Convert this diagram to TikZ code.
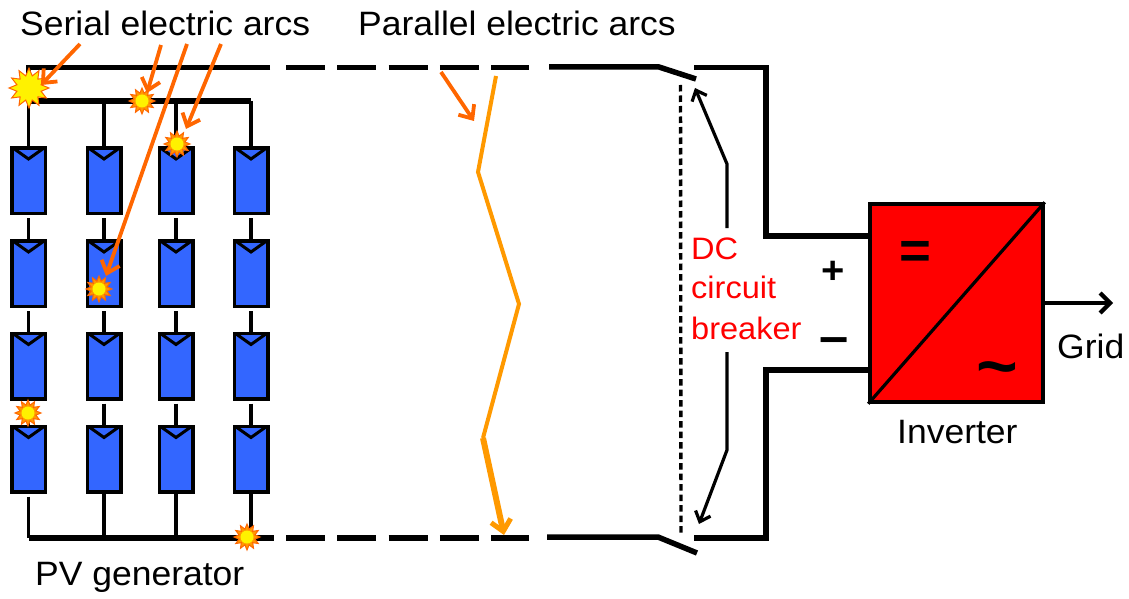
\documentclass[tikz,border=0pt]{standalone}
\usepackage{fontspec}
\setmainfont[FakeStretch=1.05]{Liberation Sans}
\usetikzlibrary{arrows.meta,shapes.geometric}
\definecolor{modblue}{HTML}{3366FF}
\definecolor{arcor}{HTML}{FF6600}
\definecolor{zigor}{HTML}{FF9900}
\tikzset{
  x=1pt,y=-1pt,
  module/.style={draw=black,line width=3.5pt,fill=modblue,minimum width=33.5pt,minimum height=65.5pt,inner sep=0pt},
  notch/.style={black,line width=3pt,line join=miter},
  thinwire/.style={black,line width=3.5pt},
  bus/.style={black,line width=5.5pt},
  dashbus/.style={black,line width=5.5pt,dash pattern=on 39pt off 12.3pt},
  poleline/.style={black,line width=5.5pt},
  arcarrow/.style={arcor,line width=3.8pt,-{Straight Barb[length=11pt,width=19pt,line width=3.8pt]}},
  blackarrow/.style={black,line width=3.2pt,-{Straight Barb[length=9pt,width=16pt,line width=3.2pt]}},
  lbl/.style={anchor=base west,inner sep=0pt,font=\fontsize{33.8}{36}\selectfont,text=black},
  redlbl/.style={anchor=base west,inner sep=0pt,font=\fontsize{31}{36}\selectfont,text=red},
  burst/.style={star,star points=12,star point ratio=1.6,draw=arcor,line width=1pt,fill=zigor,inner sep=0pt,minimum size=#1},
  core/.style={circle,fill=yellow,inner sep=0pt,minimum size=#1},
  pt/.style={coordinate}
}
\begin{document}
\begin{tikzpicture}
\useasboundingbox (0,0) rectangle (1129,599);
% modules
\foreach \c/\x in {1/28.5,2/104,3/176,4/251}{
  \foreach \r/\y in {1/180.5,2/273.5,3/366,4/459}{
    \node[module] (m\r\c) at (\x,\y) {};
    \draw[notch] ([xshift=3pt,yshift=-2pt]m\r\c.north west) -- ([yshift=-13pt]m\r\c.north) -- ([xshift=-3pt,yshift=-2pt]m\r\c.north east);
  }
  \draw[thinwire] ([yshift=-3pt]m1\c.south) -- (m2\c.north);
  \draw[thinwire] ([yshift=-3pt]m2\c.south) -- (m3\c.north);
  \draw[thinwire] ([yshift=-3pt]m3\c.south) -- (m4\c.north);
}
% buses
\coordinate (tl) at (28.5,67.5);
\coordinate (tr) at (270,67.5);
\coordinate (il) at (28.5,101);
\coordinate (ir) at (251,101);
\coordinate (bl) at (28.5,538);
\coordinate (br) at (274,538);
\draw[bus,line cap=butt] (tr) -- (tl) -- (il);
\draw[bus] (il) -- (ir);
\foreach \c/\x in {1/28.5,2/104,3/176,4/251}{
  \draw[thinwire] (\x,101) -- (m1\c.north);
}
\draw[thinwire] ([yshift=-3pt]m41.south) -- (bl);
\foreach \c/\x in {2/104,3/176,4/251}{
  \draw[thinwire] (m4\c.south) -- (\x,538);
}
\draw[bus] (bl) -- (br);
% dashed sections
\coordinate (d1a) at (286,67.5); \coordinate (d1b) at (529,67.5);
\coordinate (d2a) at (286,538); \coordinate (d2b) at (529,538);
\draw[dashbus] (d1a) -- (d1b);
\draw[dashbus] (d2a) -- (d2b);
% right of dashes, switches
\coordinate (s1a) at (549,67); \coordinate (s1b) at (659,67); \coordinate (s1c) at (696,79);
\coordinate (s2a) at (547,537); \coordinate (s2b) at (658,537); \coordinate (s2c) at (697,553);
\draw[poleline] (s1a) -- (s1b) -- (s1c);
\draw[poleline] (s2a) -- (s2b) -- (s2c);
% inverter
\node[draw=black,line width=3.5pt,fill=red,minimum width=173pt,minimum height=198pt,inner sep=0pt] (inv) at (956.5,303) {};
\draw[black,line width=3.2pt] (inv.south west) -- (inv.north east);
\coordinate (c1a) at (694,67.5); \coordinate (c1b) at (766,67.5); \coordinate (c1c) at (766,236);
\coordinate (c2a) at (694,538); \coordinate (c2b) at (766,538); \coordinate (c2c) at (766,370);
\draw[poleline,line join=miter] (c1a) -- (c1b) -- (c1c) -- (inv.west |- c1c);
\draw[poleline,line join=miter] (c2a) -- (c2b) -- (c2c) -- (inv.west |- c2c);
% breaker link
\coordinate (lk1) at (680.5,85); \coordinate (lk2) at (681,533);
\draw[black,line width=3.4pt,dash pattern=on 6.5pt off 4pt] (lk1) -- (lk2);
\node[redlbl] (dc) at (691,259) {DC};
\node[redlbl] (cc) at (691,298) {circuit};
\node[redlbl] (cb) at (691,339) {breaker};
\coordinate (ba1) at (727,228); \coordinate (ba2) at (727,164); \coordinate (ba3) at (695,88);
\coordinate (bb1) at (727,352); \coordinate (bb2) at (727,450); \coordinate (bb3) at (699,524);
\draw[blackarrow,line join=round] (ba1) -- (ba2) -- (ba3);
\draw[blackarrow,line join=round] (bb1) -- (bb2) -- (bb3);
% output
\coordinate (grid) at (1113,303);
\draw[black,line width=4.5pt,-{Straight Barb[length=10pt,width=20pt,line width=4.2pt]}] (inv.east) -- (grid);
% symbols
\node[inner sep=0pt,font=\bfseries\fontsize{52}{52}\selectfont] (eq) at (915,255) {=};
\node[inner sep=0pt,font=\bfseries\fontsize{68}{68}\selectfont] (tl2) at (997,376) {\symbol{126}};
\node[inner sep=0pt,font=\bfseries\fontsize{38}{38}\selectfont] (plus) at (833,272) {+};
\node[inner sep=0pt,font=\bfseries\fontsize{50}{50}\selectfont] (minus) at (834,346) {–};
% labels
\node[lbl] (ser) at (20,36) {Serial electric arcs};
\node[lbl] (par) at (358,36) {Parallel electric arcs};
\node[lbl] (pv) at (35,585) {PV generator};
\node[lbl] (invl) at (897,443) {Inverter};
\node[lbl] (gr) at (1057,358) {Grid};
% zigzag
\coordinate (z1) at (496,76); \coordinate (z2) at (478,172); \coordinate (z3) at (519,304); \coordinate (z4) at (483,438); \coordinate (z5) at (504,535);
\draw[zigor,line width=4pt,line join=miter] (z1) -- (z2) -- (z3) -- (z4);
\draw[zigor,line width=6pt,-{Straight Barb[length=11pt,width=20pt,line width=5pt]}] (z4) -- (z5);
% arcs
\node[burst=40pt,fill=yellow] (a1) at (29,88) {};
\node[burst=26pt] (a2) at (142,101) {};
\node[core=13pt] at (a2) {};
\node[burst=26pt] (a3) at (177,144) {};
\node[core=13pt] at (a3) {};
\node[burst=26pt] (a4) at (99,289) {};
\node[core=13pt] at (a4) {};
\node[burst=26pt] (a5) at (28,413) {};
\node[core=13pt] at (a5) {};
\node[burst=26pt] (a6) at (247,537) {};
\node[core=13pt] at (a6) {};
% labelling arrows
\coordinate (q1) at (80,44); \coordinate (q2) at (161,45); \coordinate (q3) at (187,44); \coordinate (q4) at (221,44); \coordinate (q5) at (441,72);
\coordinate (p1) at (41,85); \coordinate (p2) at (147,93); \coordinate (p3) at (106,276); \coordinate (p4) at (186,129); \coordinate (p5) at (474,121);
\draw[arcarrow] (q1) -- (p1);
\draw[arcarrow] (q2) -- (p2);
\draw[arcarrow] (q3) -- (p3);
\draw[arcarrow] (q4) -- (p4);
\draw[arcarrow] (q5) -- (p5);
\end{tikzpicture}
\end{document}
